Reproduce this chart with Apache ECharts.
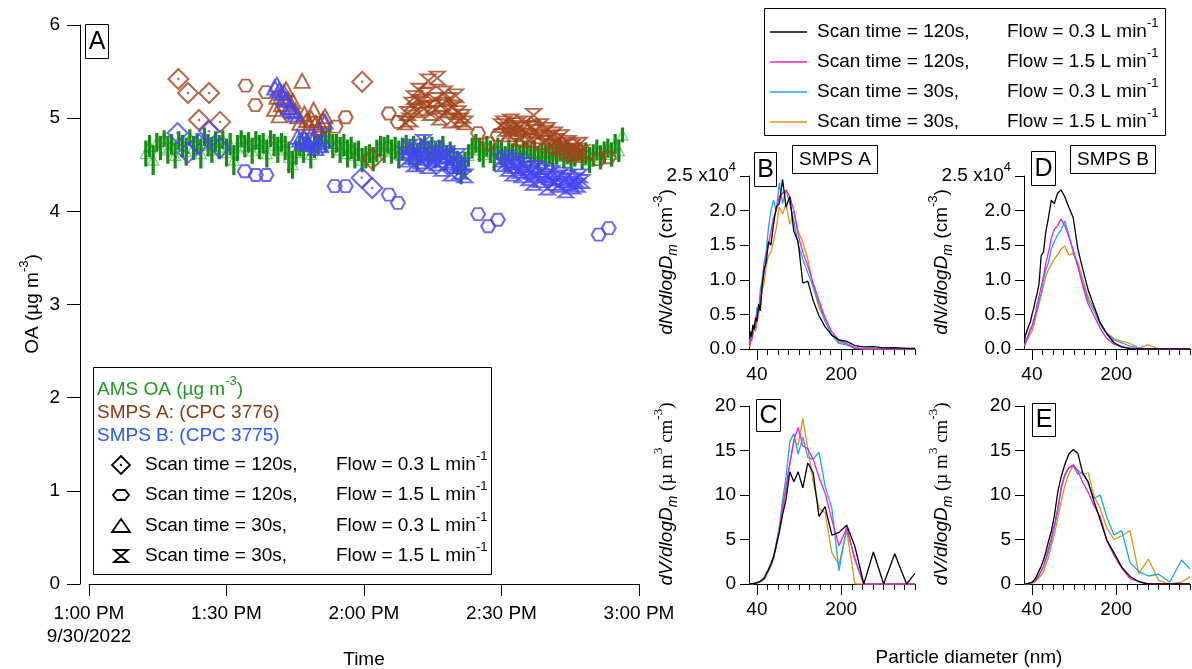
<!DOCTYPE html>
<html>
<head>
<meta charset="utf-8">
<script src="https://cdn.jsdelivr.net/npm/echarts@6/dist/echarts.min.js"></script>
<style>
  html, body { margin: 0; padding: 0; background: #fff; }
  #chart { width: 1192px; height: 669px; }
</style>
</head>
<body>
<div id="chart"></div>
<script>
// ---------------- Panel A: OA time series (minutes after 1:00 PM, 9/30/2022) ----------------
const timeTickLabels = ['1:00 PM\n9/30/2022', '1:30 PM', '2:00 PM', '2:30 PM', '3:00 PM'];

const amsMinutes = [
  12.4,13.2,14.0,14.8,15.6,16.4,17.2,18.0,18.8,19.6,
  20.4,21.2,22.0,22.8,23.6,24.4,25.2,26.0,26.8,27.6,
  28.4,29.2,30.0,30.8,31.6,32.4,33.2,34.0,34.8,35.6,
  36.4,37.2,38.0,38.8,39.6,40.4,41.2,42.0,42.8,43.6,
  44.4,45.2,46.0,46.8,47.6,48.4,49.2,50.0,50.8,51.6,
  52.4,53.2,54.0,54.8,55.6,56.4,57.2,58.0,58.8,59.6,
  60.4,61.2,62.0,62.8,63.6,64.4,65.2,66.0,66.8,67.6,
  68.4,69.2,70.0,70.8,71.6,72.4,73.2,74.0,74.8,75.6,
  76.4,77.2,78.0,78.8,79.6,80.4,81.2,82.0,82.8,83.6,
  84.4,85.2,86.0,86.8,87.6,88.4,89.2,90.0,90.8,91.6,
  92.4,93.2,94.0,94.8,95.6,96.4,97.2,98.0,98.8,99.6,
  100.4,101.2,102.0,102.8,103.6,104.4,105.2,106.0,106.8,107.6,
  108.4,109.2,110.0,110.8,111.6,112.4,113.2,114.0,114.8,115.6,116.4
];
const amsOA = [
  4.62,4.70,4.55,4.74,4.68,4.78,4.66,4.72,4.60,4.76,
  4.70,4.64,4.79,4.68,4.73,4.62,4.80,4.71,4.66,4.75,
  4.69,4.77,4.63,4.72,4.55,4.68,4.78,4.70,4.74,4.65,
  4.76,4.69,4.73,4.62,4.78,4.71,4.66,4.74,4.68,4.58,
  4.50,4.63,4.70,4.66,4.74,4.61,4.69,4.72,4.80,4.75,
  4.78,4.70,4.73,4.66,4.71,4.62,4.68,4.60,4.65,4.55,
  4.58,4.62,4.56,4.65,4.70,4.66,4.72,4.64,4.68,4.61,
  4.67,4.72,4.63,4.70,4.58,4.66,4.71,4.62,4.68,4.60,
  4.65,4.70,4.57,4.63,4.55,4.52,4.45,4.50,4.60,4.68,
  4.73,4.66,4.61,4.70,4.64,4.58,4.67,4.62,4.56,4.65,
  4.60,4.68,4.57,4.63,4.66,4.59,4.64,4.55,4.62,4.58,
  4.63,4.57,4.61,4.66,4.59,4.62,4.56,4.60,4.64,4.58,
  4.62,4.55,4.60,4.66,4.58,4.63,4.68,4.61,4.72,4.65,4.82
];
const amsErr = [
  0.14,0.12,0.16,0.10,0.13,0.09,0.15,0.11,0.14,0.10,
  0.12,0.15,0.09,0.13,0.11,0.16,0.10,0.12,0.14,0.11,
  0.13,0.10,0.15,0.12,0.16,0.14,0.09,0.12,0.11,0.14,
  0.10,0.13,0.11,0.15,0.09,0.12,0.14,0.10,0.13,0.17,
  0.15,0.13,0.11,0.14,0.10,0.15,0.12,0.11,0.10,0.12,
  0.11,0.13,0.10,0.14,0.12,0.15,0.12,0.14,0.11,0.13,
  0.12,0.10,0.13,0.12,0.11,0.14,0.10,0.13,0.12,0.15,
  0.12,0.10,0.14,0.11,0.15,0.12,0.10,0.13,0.12,0.14,
  0.12,0.11,0.14,0.12,0.15,0.13,0.16,0.14,0.12,0.11,
  0.10,0.13,0.14,0.11,0.12,0.15,0.12,0.13,0.14,0.12,
  0.13,0.11,0.14,0.12,0.10,0.13,0.12,0.15,0.11,0.13,
  0.12,0.14,0.11,0.12,0.13,0.11,0.14,0.12,0.10,0.13,
  0.12,0.14,0.12,0.11,0.13,0.12,0.10,0.13,0.11,0.12,0.08
];

// SMPS A (CPC 3776) total mass
const smpsA_scan120_flow03_t = [19.5,21.6,24.0,26.2,28.6,59.6,61.8];
const smpsA_scan120_flow03_v = [5.42,5.27,4.98,5.27,4.96,5.39,4.56];
const smpsA_scan120_flow15_t = [34.2,36.3,38.6,53.8,56.0,65.4,67.4,84.9,87.1,89.2,111.2,113.4];
const smpsA_scan120_flow15_v = [5.35,5.14,5.28,4.91,5.01,5.05,4.96,4.84,4.73,4.82,4.56,4.58];
const smpsA_scan30_flow03_t = [40.5,41.0,41.5,42.0,42.5,43.0,43.5,44.0,44.5,45.0,45.5,46.0,46.5,47.0,47.5,48.0,48.5,49.0,49.5,50.0,50.5,51.0,51.5];
const smpsA_scan30_flow03_v = [5.10,5.23,5.03,5.15,5.28,5.31,5.20,5.12,5.18,5.08,5.02,4.95,5.40,5.05,4.98,4.91,5.00,5.09,4.95,4.89,4.93,4.98,5.02];
const smpsA_scan30_flow15_t = [
  69.0,69.5,70.0,70.5,71.0,71.5,72.0,72.5,73.0,73.5,74.0,74.5,75.0,75.5,76.0,76.5,77.0,77.5,78.0,78.5,79.0,79.5,80.0,80.5,81.0,81.5,82.0,
  90.0,90.5,91.0,91.5,92.0,92.5,93.0,93.5,94.0,94.5,95.0,95.5,96.0,96.5,97.0,97.5,98.0,98.5,99.0,99.5,100.0,100.5,101.0,101.5,102.0,102.5,103.0,103.5,104.0,104.5,105.0,105.5,106.0,106.5,107.0,107.5
];
const smpsA_scan30_flow15_v = [
  4.95,5.05,4.98,5.15,5.22,5.08,5.30,5.18,5.10,5.25,5.40,5.05,5.12,5.20,5.43,5.00,5.15,5.27,5.08,5.20,4.97,5.12,5.24,5.06,4.98,5.02,4.95,
  4.92,4.95,4.88,4.82,4.97,4.90,4.85,4.93,4.78,4.88,4.95,4.82,4.76,4.90,5.03,4.86,4.80,4.92,4.74,4.85,4.88,4.79,4.70,4.83,4.76,4.68,4.80,4.72,4.65,4.74,4.62,4.70,4.66,4.60,4.72,4.64
];

// SMPS B (CPC 3775) total mass
const smpsB_scan120_flow03_t = [19.3,21.6,24.0,26.2,28.6,59.5,61.8];
const smpsB_scan120_flow03_v = [4.84,4.63,4.72,4.86,4.68,4.36,4.25];
const smpsB_scan120_flow15_t = [34.0,36.4,38.7,53.6,56.0,65.4,67.4,84.9,87.1,89.2,111.2,113.4];
const smpsB_scan120_flow15_v = [4.43,4.39,4.39,4.27,4.27,4.18,4.09,3.97,3.84,3.91,3.75,3.82];
const smpsB_scan30_flow03_t = [40.5,41.0,41.5,42.0,42.5,43.0,43.5,44.0,44.5,45.0,45.5,46.0,46.5,47.0,47.5,48.0,48.5,49.0,49.5,50.0,50.5,51.0,51.5];
const smpsB_scan30_flow03_v = [5.33,5.36,5.30,5.27,5.22,5.20,5.12,5.09,5.07,5.04,4.80,4.77,4.74,4.79,4.75,4.72,4.82,4.77,4.68,4.74,4.71,4.76,4.96];
const smpsB_scan30_flow15_t = smpsA_scan30_flow15_t;
const smpsB_scan30_flow15_v = [
  4.62,4.55,4.70,4.58,4.50,4.66,4.60,4.53,4.75,4.57,4.48,4.62,4.55,4.68,4.51,4.60,4.45,4.58,4.63,4.52,4.40,4.56,4.48,4.60,4.42,4.50,4.38,
  4.55,4.50,4.58,4.45,4.52,4.40,4.48,4.55,4.43,4.38,4.50,4.46,4.35,4.42,4.30,4.47,4.40,4.33,4.44,4.38,4.25,4.36,4.42,4.30,4.35,4.28,4.40,4.33,4.22,4.37,4.30,4.26,4.34,4.28,4.38,4.32
];

// ---------------- Panels B-E: size distributions ----------------
const diameterNm = [26.0,28.0,30.1,32.3,34.8,37.4,40.2,43.2,46.4,49.9,53.6,57.6,61.9,66.5,71.5,76.8,82.5,88.7,95.3,102.4,110.1,118.3,127.1,136.6,146.8,157.8,169.5,182.2,195.8,210.4,226.1,242.9,261.0,280.5,301.5,324.0,340.0];
const dpTicksMinor = [40,60,80,100,120,140,160,180,200,220,240,260,280,300,320,340];
const dpTicksMajor = [40,200];

// B: SMPS A number distribution (cm^-3)
const numA_120s_03 = [1500,2500,1800,3500,2800,4500,4000,6500,5500,9000,11500,12500,15500,15000,18000,20500,21000,24500,20500,22000,17000,15500,9500,9800,7000,4800,3200,2000,1300,1100,500,300,350,150,200,100,100];
const numA_120s_15 = [500,1500,1200,2500,3500,3000,5000,5500,7000,9500,11000,13500,15000,17000,19000,20000,22000,22500,23000,22000,20000,16500,14000,12000,9500,7000,4500,2500,1200,800,200,0,0,0,0,0,0];
const numA_30s_03  = [1000,2500,1500,3000,3500,4000,6000,5500,8500,10000,12500,14000,17500,20000,21500,20000,24000,21000,23000,21000,18500,15000,13000,11000,9000,6500,4000,2000,800,600,100,0,0,0,0,0,0];
const numA_30s_15  = [300,800,600,2000,3000,2500,4000,5000,6500,8500,9500,12000,13500,14000,15500,17500,20500,19500,21000,18000,20000,17000,15500,13000,9000,6000,4000,2000,1000,700,200,0,0,0,0,0,0];

// D: SMPS B number distribution (cm^-3)
const numB_120s_03 = [1300,2000,2500,2300,3500,4000,5000,5800,7000,8000,9500,13500,14000,17000,19000,21500,21000,22500,23000,22000,20500,19000,14500,11500,8500,6200,3800,2200,900,300,50,0,0,0,0,0,0];
const numB_120s_15 = [500,1000,1500,1800,2500,3000,3300,4200,5000,6500,7600,9000,10500,12400,14000,16000,17300,17800,18800,17800,16200,14400,12000,9000,6500,4800,3000,1500,700,300,150,0,0,0,0,0,0];
const numB_30s_03  = [600,900,1300,1600,2200,2600,2800,3800,4800,5800,7000,8000,10000,11500,12500,14500,15500,16500,17200,18500,16500,14000,12000,9500,7000,5500,3500,2200,1300,900,400,150,0,0,0,0,0];
const numB_30s_15  = [400,800,1000,1500,1800,2200,2500,3300,4200,5500,6500,7800,9000,10500,11500,12200,13000,13600,14400,14900,13600,13800,12500,10000,7500,5800,3800,2300,1500,1100,800,150,600,0,0,0,0];

// C: SMPS A volume distribution (um^3 cm^-3)
const volA_120s_03 = [0,0,0.02,0.05,0.08,0.1,0.15,0.2,0.3,0.4,0.6,1.1,1.6,2.2,3.0,4.3,5.8,7.8,9.5,12.6,11.5,12.6,10.8,13.6,12.5,7.6,8.7,5.5,5.8,6.6,4.2,0,3.6,0,3.4,0,1.2];
const volA_120s_15 = [0,0,0.02,0.04,0.07,0.1,0.14,0.2,0.3,0.45,0.7,1.2,1.6,2.2,3.0,4.5,6.0,8.5,11.0,13.5,16.1,17.6,15.5,15.2,14.0,12.0,10.2,7.2,4.3,6.3,2.8,0,0,0,0,0,0];
const volA_30s_03  = [0,0,0.02,0.05,0.08,0.1,0.15,0.2,0.3,0.45,0.7,1.2,1.7,2.3,3.1,4.6,6.5,9.4,12.0,16.0,16.9,14.6,16.5,14.2,14.0,14.8,11.0,8.5,1.5,6.4,2.7,0,0,0,0,0,0];
const volA_30s_15  = [0,0,0,0.02,0.05,0.08,0.1,0.15,0.25,0.35,0.5,0.9,1.4,2.0,2.8,4.2,6.0,8.3,10.5,13.5,16.1,15.6,18.6,15.2,11.5,8.5,8.0,3.5,2.2,6.0,0,0,0,0,0,0,0];

// E: SMPS B volume distribution (um^3 cm^-3)
const volB_120s_03 = [0,0,0.02,0.05,0.1,0.15,0.2,0.35,0.6,1.0,1.5,2.0,2.7,3.6,4.8,5.9,7.6,10.2,12.0,13.4,14.6,15.1,14.7,12.4,11.5,9.3,7.2,4.9,3.5,1.9,0.85,0.25,0,0,0,0,0];
const volB_120s_15 = [0,0,0,0.02,0.05,0.1,0.15,0.25,0.4,0.6,1.0,1.5,2.0,2.9,4.0,5.2,6.6,8.4,10.8,12.3,13.1,13.4,12.7,11.4,10.3,8.8,7.6,4.9,3.2,1.8,0.6,0.3,0,0,0,0,0];
const volB_30s_03  = [0,0,0,0.02,0.05,0.1,0.15,0.2,0.35,0.6,1.0,1.4,1.9,2.7,3.6,4.8,6.3,8.1,10.5,12.2,13.0,13.3,12.3,12.6,11.3,9.6,10.0,7.5,5.5,6.0,2.4,1.4,0.9,1.1,0.2,2.7,1.7];
const volB_30s_15  = [0,0,0,0,0.02,0.05,0.1,0.15,0.25,0.4,0.7,1.0,1.4,2.2,3.0,4.3,5.5,7.3,9.2,11.0,12.4,13.3,12.8,12.3,12.5,9.9,8.5,6.3,5.0,5.4,6.0,1.2,2.8,0.4,0,0.2,0.8];

const modeNames = [
  ['Scan time = 120s,', 'Flow = 0.3 L min'],
  ['Scan time = 120s,', 'Flow = 1.5 L min'],
  ['Scan time = 30s,',  'Flow = 0.3 L min'],
  ['Scan time = 30s,',  'Flow = 1.5 L min']
];

// ---------------- styling ----------------
const FONT = '"Liberation Sans", Arial, sans-serif';
const SERIF = '"Liberation Serif", "Times New Roman", serif';
const FS = 19;
const lineColors = ['#000000', '#f21ed0', '#17a6f0', '#d6971c'];
const GREEN_BAR = '#138d13';
const GREEN_MARK = '#5cbf5c';
const BROWN = '#a3431c';
const BLUE = '#4545f4';

const HEXAGON = 'path://M5 0 L15 0 L20 8.66 L15 17.32 L5 17.32 L0 8.66 Z';
const HOURGLASS = 'path://M0 0 L20 0 L0 20 L20 20 Z';

const zip = (t, v) => t.map((x, i) => [x, v[i]]);

// ---------------- axes ----------------
const grids = [
  { left: 89, top: 25, width: 550, height: 559 },     // A
  { left: 749, top: 176, width: 166, height: 173 },   // B
  { left: 749, top: 406, width: 166, height: 178 },   // C
  { left: 1024, top: 176, width: 166, height: 173 },  // D
  { left: 1024, top: 406, width: 166, height: 178 }   // E
];

const xAxes = [{
  type: 'value', gridIndex: 0, min: 0, max: 120, interval: 30,
  axisLine: { show: true, onZero: false, lineStyle: { color: '#000', width: 1 } },
  axisTick: { show: true, length: 12, lineStyle: { color: '#000' } },
  axisLabel: {
    fontSize: FS, fontFamily: FONT, color: '#000', margin: 18, lineHeight: 23,
    formatter: v => timeTickLabels[Math.round(v / 30)]
  },
  splitLine: { show: false }
}];

function sizeXAxes(gridIndex) {
  return [
    {
      type: 'value', gridIndex, position: 'bottom', min: 25, max: 340,
      axisLine: { show: true, onZero: false, lineStyle: { color: '#000', width: 1 } },
      axisTick: { show: true, customValues: dpTicksMinor, length: 6, lineStyle: { color: '#000' } },
      axisLabel: { show: false },
      splitLine: { show: false }
    },
    {
      type: 'value', gridIndex, position: 'bottom', offset: 0, min: 25, max: 340,
      axisLine: { show: false, onZero: false },
      axisTick: { show: true, customValues: dpTicksMajor, length: 11, lineStyle: { color: '#000' } },
      axisLabel: { show: true, customValues: dpTicksMajor, fontSize: FS, fontFamily: FONT, color: '#000', margin: 16 },
      splitLine: { show: false }
    }
  ];
}
for (let g = 1; g <= 4; g++) xAxes.push(...sizeXAxes(g));

const supRich = {
  n: { fontSize: FS, fontFamily: FONT, color: '#000', lineHeight: 30 },
  sup: { fontSize: 13, fontFamily: FONT, color: '#000', verticalAlign: 'top' }
};

const yAxes = [
  {
    type: 'value', gridIndex: 0, min: 0, max: 6, interval: 1, offset: 9,
    axisLine: { show: true, onZero: false, lineStyle: { color: '#000', width: 1 } },
    axisTick: { show: true, length: 13, lineStyle: { color: '#000' } },
    axisLabel: { fontSize: FS, fontFamily: FONT, color: '#000', margin: 20 },
    splitLine: { show: false }
  }
];
function numYAxis(gridIndex) {
  return {
    type: 'value', gridIndex, min: 0, max: 25000, interval: 5000,
    axisLine: { show: true, onZero: false, lineStyle: { color: '#000', width: 1 } },
    axisTick: { show: true, length: 9, lineStyle: { color: '#000' } },
    axisLabel: {
      fontSize: FS, fontFamily: FONT, color: '#000', margin: 13,
      formatter: v => v === 25000 ? '{n|2.5 x10}{sup|4}' : (v / 10000).toFixed(1),
      rich: supRich
    },
    splitLine: { show: false }
  };
}
function volYAxis(gridIndex) {
  return {
    type: 'value', gridIndex, min: 0, max: 20, interval: 5,
    axisLine: { show: true, onZero: false, lineStyle: { color: '#000', width: 1 } },
    axisTick: { show: true, length: 9, lineStyle: { color: '#000' } },
    axisLabel: { fontSize: FS, fontFamily: FONT, color: '#000', margin: 13 },
    splitLine: { show: false }
  };
}
yAxes.push(numYAxis(1), volYAxis(2), numYAxis(3), volYAxis(4));

// ---------------- series ----------------
const series = [];

// AMS OA markers and error bars
series.push({
  type: 'scatter', xAxisIndex: 0, yAxisIndex: 0, z: 2,
  symbol: 'triangle', symbolSize: [11, 10],
  itemStyle: { color: 'rgba(0,0,0,0)', borderColor: GREEN_MARK, borderWidth: 1.2 },
  data: zip(amsMinutes, amsOA)
});
series.push({
  type: 'custom', xAxisIndex: 0, yAxisIndex: 0, z: 3,
  data: amsMinutes.map((t, i) => [t, amsOA[i] - amsErr[i], amsOA[i] + amsErr[i]]),
  renderItem(params, api) {
    const lo = api.coord([api.value(0), api.value(1)]);
    const hi = api.coord([api.value(0), api.value(2)]);
    return {
      type: 'line',
      shape: { x1: lo[0], y1: lo[1], x2: hi[0], y2: hi[1] },
      style: { stroke: GREEN_BAR, lineWidth: 3.2 }
    };
  }
});

function markerSeries(t, v, color, symbol, size, z) {
  return {
    type: 'scatter', xAxisIndex: 0, yAxisIndex: 0, z,
    symbol, symbolSize: size,
    itemStyle: { color: 'rgba(0,0,0,0)', borderColor: color, borderWidth: 2 },
    data: zip(t, v)
  };
}
function dotSeries(t, v, color, z) {
  return {
    type: 'scatter', xAxisIndex: 0, yAxisIndex: 0, z,
    symbol: 'circle', symbolSize: 2.5, itemStyle: { color },
    data: zip(t, v)
  };
}
[[BROWN, [smpsA_scan120_flow03_t, smpsA_scan120_flow03_v], [smpsA_scan120_flow15_t, smpsA_scan120_flow15_v],
          [smpsA_scan30_flow03_t, smpsA_scan30_flow03_v], [smpsA_scan30_flow15_t, smpsA_scan30_flow15_v]],
 [BLUE,  [smpsB_scan120_flow03_t, smpsB_scan120_flow03_v], [smpsB_scan120_flow15_t, smpsB_scan120_flow15_v],
          [smpsB_scan30_flow03_t, smpsB_scan30_flow03_v], [smpsB_scan30_flow15_t, smpsB_scan30_flow15_v]]
].forEach(([c, d120a, d120b, d30a, d30b], k) => {
  const z = 4 + k;
  series.push(markerSeries(d120a[0], d120a[1], c, 'diamond', 20, z));
  series.push(dotSeries(d120a[0], d120a[1], c, z));
  series.push(markerSeries(d120b[0], d120b[1], c, HEXAGON, [14, 12], z));
  series.push(markerSeries(d30a[0], d30a[1], c, 'triangle', [15, 14], z));
  series.push(markerSeries(d30b[0], d30b[1], c, HOURGLASS, [15, 13], z));
});

// size distributions: the first x axis of each panel carries the data
const panels = [
  { x: 1, y: 1, sets: [numA_120s_03, numA_120s_15, numA_30s_03, numA_30s_15] },
  { x: 3, y: 2, sets: [volA_120s_03, volA_120s_15, volA_30s_03, volA_30s_15] },
  { x: 5, y: 3, sets: [numB_120s_03, numB_120s_15, numB_30s_03, numB_30s_15] },
  { x: 7, y: 4, sets: [volB_120s_03, volB_120s_15, volB_30s_03, volB_30s_15] }
];
panels.forEach(p => {
  // the black trace is drawn last so it sits on top
  [3, 2, 1, 0].forEach(k => {
    series.push({
      type: 'line', xAxisIndex: p.x, yAxisIndex: p.y,
      showSymbol: false, symbol: 'none', smooth: false,
      lineStyle: { color: lineColors[k], width: 1.3 },
      data: zip(diameterNm, p.sets[k]),
      z: 2 + (3 - k)
    });
  });
});

// ---------------- text, boxes and legends ----------------
function text(x, y, str, rich, opts = {}) {
  return Object.assign({
    type: 'text', x, y, silent: true,
    style: {
      text: str, rich,
      align: 'center', verticalAlign: 'middle',
      textAlign: 'center', textVerticalAlign: 'middle',
      fill: '#000', font: FS + 'px ' + FONT
    }
  }, opts);
}
function boxLabel(x, y, w, h, str, size) {
  return [
    { type: 'rect', shape: { x: x + 0.5, y: y + 0.5, width: w, height: h }, style: { fill: '#fff', stroke: '#000', lineWidth: 1 }, z: 50 },
    { type: 'text', x: x + w / 2 + 0.5, y: y + h / 2 + 1, z: 51, silent: true,
      style: { text: str, align: 'center', verticalAlign: 'middle', textAlign: 'center', textVerticalAlign: 'middle', fill: '#000', font: size + 'px ' + FONT } }
  ];
}

const richBase = {
  n:   { fontSize: FS, fontFamily: FONT, fill: '#000', color: '#000', lineHeight: 30 },
  sup: { fontSize: 13, fontFamily: FONT, fill: '#000', color: '#000', verticalAlign: 'top' },
  i:   { fontSize: FS, fontFamily: FONT, fontStyle: 'italic', fill: '#000', color: '#000', lineHeight: 30 },
  sub: { fontSize: 14, fontFamily: FONT, fontStyle: 'italic', fill: '#000', color: '#000', verticalAlign: 'bottom', padding: [0, 0, 2, 0] },
  s:   { fontSize: FS, fontFamily: SERIF, fill: '#000', color: '#000', lineHeight: 30 },
  ssup:{ fontSize: 13, fontFamily: SERIF, fill: '#000', color: '#000', verticalAlign: 'top' },
  g:   { fontSize: FS, fontFamily: FONT, fill: '#1f9a1f', color: '#1f9a1f', lineHeight: 30 },
  gs:  { fontSize: 13, fontFamily: FONT, fill: '#1f9a1f', color: '#1f9a1f', verticalAlign: 'top' },
  br:  { fontSize: FS, fontFamily: FONT, fill: '#8a3a16', color: '#8a3a16' },
  bl:  { fontSize: FS, fontFamily: FONT, fill: '#2c58ff', color: '#2c58ff' }
};

const numTitle = '{i|dN/dlogD}{sub|m}{n| (cm}{sup|-3}{n|)}';
const volTitle = '{i|dV/dlogD}{sub|m}{s| (µ m}{ssup|3}{s| cm}{ssup|-3}{s|)}';

const graphics = [];
// axis titles
graphics.push(text(33, 304, '{n|OA (µg m}{sup|-3}{n|)}', richBase, { rotation: Math.PI / 2 }));
graphics.push(text(364, 660, 'Time', undefined));
graphics.push(text(969, 658, 'Particle diameter (nm)', undefined));
graphics.push(text(667, 262, numTitle, richBase, { rotation: Math.PI / 2 }));
graphics.push(text(667, 494, volTitle, richBase, { rotation: Math.PI / 2 }));
graphics.push(text(942, 262, numTitle, richBase, { rotation: Math.PI / 2 }));
graphics.push(text(942, 494, volTitle, richBase, { rotation: Math.PI / 2 }));

// panel tags
graphics.push(...boxLabel(85, 24, 23, 34, 'A', 25));
graphics.push(...boxLabel(754, 152, 22, 34, 'B', 25));
graphics.push(...boxLabel(756, 399, 24, 32, 'C', 25));
graphics.push(...boxLabel(1031, 151, 24, 34, 'D', 25));
graphics.push(...boxLabel(1032, 403, 23, 33, 'E', 25));
graphics.push(...boxLabel(792, 145, 85, 28, 'SMPS A', FS));
graphics.push(...boxLabel(1070, 145, 85, 28, 'SMPS B', FS));

// legend of panel A
const legA = { x: 93, y: 367, w: 398, h: 207 };
graphics.push({ type: 'rect', shape: { x: legA.x + 0.5, y: legA.y + 0.5, width: legA.w, height: legA.h }, style: { fill: '#fff', stroke: '#000', lineWidth: 1 }, z: 40 });
function leftText(x, y, str, rich, z = 41) {
  return { type: 'text', x, y, z, silent: true, style: { text: str, rich, align: 'left', verticalAlign: 'middle', textAlign: 'left', textVerticalAlign: 'middle', fill: '#000', font: FS + 'px ' + FONT } };
}
graphics.push(leftText(97, 390, '{g|AMS OA (µg m}{gs|-3}{g|)}', richBase));
graphics.push(leftText(97, 413, '{br|SMPS A: (CPC 3776)}', richBase));
graphics.push(leftText(97, 436, '{bl|SMPS B: (CPC 3775)}', richBase));
const rowY = [465, 495, 526, 556];
rowY.forEach((y, k) => {
  graphics.push(leftText(145, y, '{n|' + modeNames[k][0] + '}', richBase));
  graphics.push(leftText(336, y, '{n|' + modeNames[k][1] + '}{sup|-1}', richBase));
});
const symStyle = { fill: 'none', stroke: '#000', lineWidth: 1.8 };
graphics.push({ type: 'polygon', z: 41, shape: { points: [[121, 456], [130, 465], [121, 474], [112, 465]] }, style: symStyle });
graphics.push({ type: 'circle', z: 41, shape: { cx: 121, cy: 465, r: 1.2 }, style: { fill: '#000' } });
graphics.push({ type: 'polygon', z: 41, shape: { points: [[117, 490], [125, 490], [129, 495], [125, 500], [117, 500], [113, 495]] }, style: symStyle });
graphics.push({ type: 'polygon', z: 41, shape: { points: [[121, 519], [130, 532], [112, 532]] }, style: symStyle });
graphics.push({ type: 'polygon', z: 41, shape: { points: [[114, 550], [128, 550], [114, 562], [128, 562]] }, style: symStyle });

// legend of the size-distribution panels
const legB = { x: 764, y: 8, w: 401, h: 127 };
graphics.push({ type: 'rect', shape: { x: legB.x + 0.5, y: legB.y + 0.5, width: legB.w, height: legB.h }, style: { fill: '#fff', stroke: '#000', lineWidth: 1 }, z: 40 });
const legRowY = [32, 62, 92, 122];
legRowY.forEach((y, k) => {
  graphics.push({ type: 'line', z: 41, shape: { x1: 770, y1: y, x2: 807, y2: y }, style: { stroke: lineColors[k], lineWidth: 1.5 } });
  graphics.push(leftText(817, y, '{n|' + modeNames[k][0] + '}', richBase));
  graphics.push(leftText(1007, y, '{n|' + modeNames[k][1] + '}{sup|-1}', richBase));
});

const chart = echarts.init(document.getElementById('chart'), null, { renderer: 'canvas' });
chart.setOption({
  backgroundColor: '#fff',
  animation: false,
  textStyle: { fontFamily: FONT },
  grid: grids,
  xAxis: xAxes,
  yAxis: yAxes,
  series,
  graphic: graphics
});
</script>
</body>
</html>
